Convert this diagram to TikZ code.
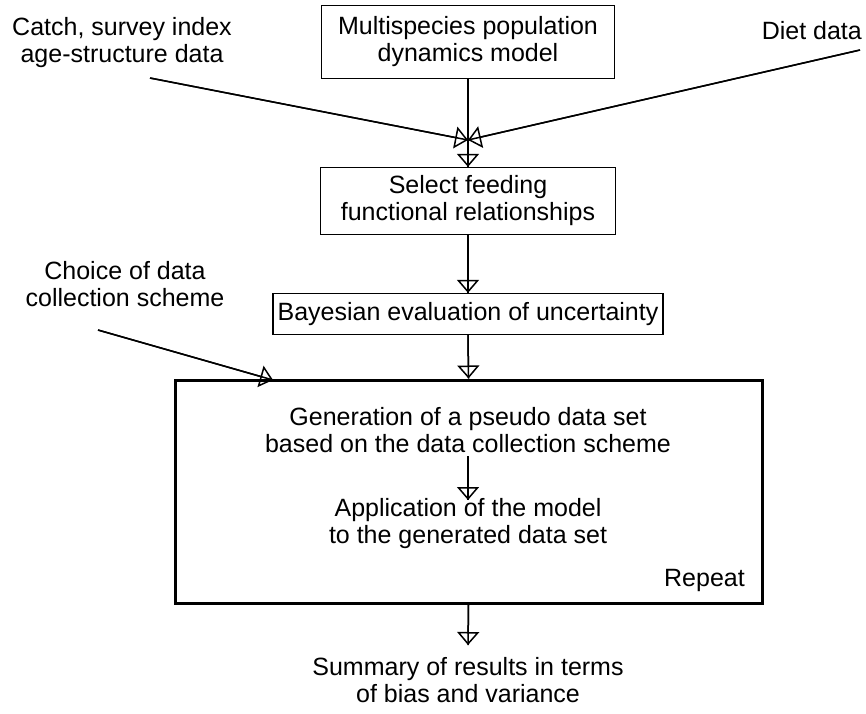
\documentclass[tikz,border=0pt]{standalone}
\usepackage{fontspec}
\setmainfont{Liberation Sans}
\usetikzlibrary{arrows.meta}
\begin{document}
\begin{tikzpicture}[x=1pt,y=-1pt,
  lbl/.style={align=center,font=\fontsize{25}{27}\selectfont,inner sep=0pt},
  boxed/.style={lbl,draw,line width=1.2pt},
  conn/.style={line width=1.5pt},
  arr/.style={conn,-{Triangle[open,length=13pt,width=22pt,line width=1.5pt]}}]
\useasboundingbox (0,0) rectangle (866,713);

% process boxes
\node[boxed,minimum width=293,minimum height=73] (model) at (468,42) {Multispecies population\\dynamics model};
\node[boxed,minimum width=295,minimum height=67] (select) at (468,201) {Select feeding\\functional relationships};
\node[boxed,minimum width=390,minimum height=41] (bayes) at (468,314) {Bayesian evaluation of uncertainty};
\node[draw,line width=3pt,minimum width=587,minimum height=223,inner sep=0pt] (rep) at (468.5,491.5) {};

% input labels
\node[lbl] (catch) at (122,43) {Catch, survey index\\age-structure data};
\node[lbl,anchor=east] (diet) at (862,31) {Diet data};
\node[lbl] (choice) at (125,284) {Choice of data\\collection scheme};

% texts inside the repeated loop
\node[lbl] (gen) at (468,430) {Generation of a pseudo data set\\based on the data collection scheme};
\node[lbl] (app) at (468,524) {Application of the model\\to the generated data set};
\node[lbl,anchor=east] (repeat) at (745,580) {Repeat};
\node[lbl] (summary) at (468,680) {Summary of results in terms\\of bias and variance};

% connector end points
\coordinate (csrc) at (150,78);
\coordinate (dsrc) at (860,50);
\coordinate (meet) at (468,140);
\coordinate (chsrc) at (98,330);
\coordinate (chtip) at (273,380);
\coordinate (gbot) at (468,456);
\coordinate (atop) at (468,500);
\coordinate (sumtop) at (468,645);

% connectors: full line plus an open triangular head
\foreach \a/\b in {csrc/meet, dsrc/meet, model.south/select.north, select.south/bayes.north,
                   bayes.south/rep.north, chsrc/chtip, gbot/atop, rep.south/sumtop}{
  \draw[conn] (\a) -- (\b);
  \draw[arr] (\a) -- (\b);
}
\end{tikzpicture}
\end{document}
